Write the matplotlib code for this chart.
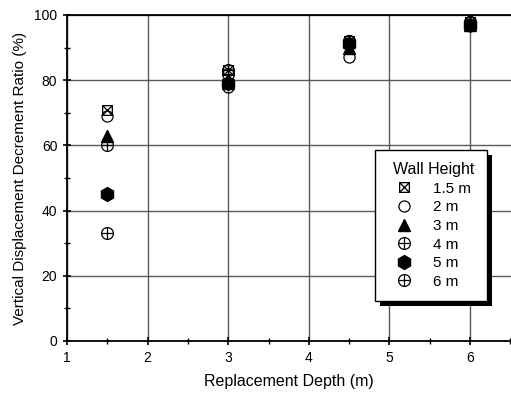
import numpy as np
import matplotlib
matplotlib.use("Agg")
import matplotlib.pyplot as plt
from matplotlib.path import Path
from matplotlib.patches import Rectangle
from matplotlib.ticker import MultipleLocator

plt.rcParams['font.family'] = ['Liberation Sans', 'DejaVu Sans']

# Replacement depth (m) and decrement ratio (%) for each wall height
depth = [1.5, 3.0, 4.5, 6.0]
wall_labels = ["1.5 m", "2 m", "3 m", "4 m", "5 m", "6 m"]
ratio_1p5 = [71, 83, 92, 98]
ratio_2 = [69, 78, 87, 97]
ratio_3 = [63, 79, 90, 97]
ratio_4 = [60, 83, 92, 98]
ratio_5 = [45, 79, 91, 97]
ratio_6 = [33, 82, 92, 98]

# Custom marker paths
M, L = Path.MOVETO, Path.LINETO
box_x = Path(
    [(-1, -1), (1, -1), (1, 1), (-1, 1), (-1, -1), (-1, -1), (1, 1), (-1, 1), (1, -1)],
    [M, L, L, L, L, M, L, M, L])
circ = Path.unit_circle()
circ_plus = Path(
    np.concatenate([circ.vertices, [[-1, 0], [1, 0], [0, -1], [0, 1]]]),
    np.concatenate([circ.codes, [M, L, M, L]]))

series = [
    (ratio_1p5, dict(marker=box_x, ms=7, mfc='none', mec='black', mew=0.9)),
    (ratio_2, dict(marker='o', ms=8, mfc='none', mec='black', mew=0.9)),
    (ratio_3, dict(marker='^', ms=9, mfc='black', mec='black')),
    (ratio_4, dict(marker=circ_plus, ms=8.5, mfc='none', mec='black', mew=0.9)),
    (ratio_5, dict(marker='h', ms=10, mfc='black', mec='black')),
    (ratio_6, dict(marker=circ_plus, ms=8.5, mfc='none', mec='black', mew=0.9)),
]

fig = plt.figure(figsize=(5.11, 3.94), dpi=100)
W, H = 511, 394
ax = fig.add_axes([67 / W, (H - 341) / H, (511 - 67) / W, (341 - 15) / H])

ax.set_xlim(1, 1 + (511 - 67) / 80.6)
ax.set_ylim(0, 100)
ax.xaxis.set_major_locator(MultipleLocator(1))
ax.xaxis.set_minor_locator(MultipleLocator(0.5))
ax.yaxis.set_major_locator(MultipleLocator(20))
ax.yaxis.set_minor_locator(MultipleLocator(10))

ax.grid(True, which='major', color='#5a5a5a', lw=1.0)
ax.set_axisbelow(True)

for vals, style in series:
    ax.plot(depth, vals, ls='none', clip_on=False, zorder=3, **style)

for side in ['left', 'bottom', 'top']:
    ax.spines[side].set_linewidth(1.3)
ax.spines['right'].set_visible(False)

ax.tick_params(which='major', direction='inout', length=6, width=1.2,
               labelsize=10, pad=4)
ax.tick_params(which='minor', direction='inout', length=4, width=1.0)

ax.set_xlabel("Replacement Depth (m)", fontsize=11.5, labelpad=7)
ax.set_ylabel("Vertical Displacement Decrement Ratio (%)", fontsize=11, labelpad=5)

leg = ax.legend(
    [plt.Line2D([], [], ls='none', **s) for _, s in series], wall_labels,
    title="Wall Height", loc='upper left',
    bbox_to_anchor=(0.694, 0.101, 0.252, 0.485), mode='expand',
    frameon=True, fancybox=False, edgecolor='black', framealpha=1,
    fontsize=11, title_fontsize=11.5, alignment='right',
    handlelength=2.2, handletextpad=0.8, labelspacing=0.3, borderpad=0.8,
    borderaxespad=0)
leg.get_frame().set_linewidth(1.0)
leg.set_zorder(5)

# Solid drop shadow below and to the right of the legend box
fig.canvas.draw()
bb = leg.get_window_extent().transformed(fig.transFigure.inverted())
dx, dy = 5 / W, 5 / H
shadow = Rectangle((bb.x0 + dx, bb.y0 - dy), bb.width, bb.height,
                   transform=fig.transFigure, facecolor='black',
                   edgecolor='none', zorder=4)
ax.add_artist(shadow)
shadow.set_clip_on(False)

fig.savefig("out.png", dpi=100)
